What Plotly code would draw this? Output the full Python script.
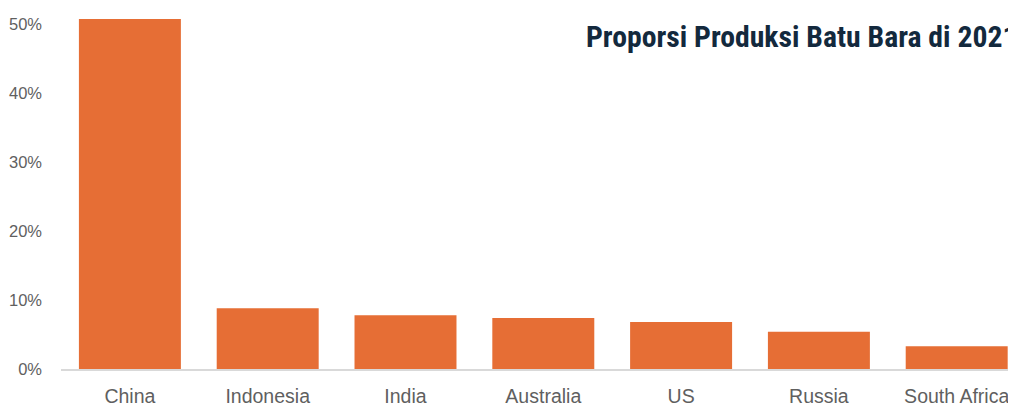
import plotly.graph_objects as go

countries = ["China", "Indonesia", "India", "Australia", "US", "Russia", "South Africa"]
shares = [50.7, 8.8, 7.8, 7.4, 6.8, 5.4, 3.3]
y_ticks = [0, 10, 20, 30, 40, 50]
y_tick_labels = ["0%", "10%", "20%", "30%", "40%", "50%"]
title_text = "Proporsi Produksi Batu Bara di 2021"

# the page body has an 8px margin, so figure coordinates = window coordinates - 8
W, H = 1008, 395
L, T, B = 53, 9, 34
plot_w = W - L
plot_h = H - T - B

fig = go.Figure(go.Bar(
    x=countries, y=shares,
    marker=dict(color="#E66E35", line=dict(width=0)),
    hoverinfo="skip",
))

fig.update_layout(
    width=W, height=H,
    margin=dict(l=L, r=0, t=T, b=B, pad=0),
    paper_bgcolor="white", plot_bgcolor="white",
    bargap=0.26,
    showlegend=False,
    font=dict(family="Liberation Sans, Arial", color="#666666", size=16),
    xaxis=dict(
        range=[-0.5, -0.5 + plot_w / 137.8], showgrid=False, zeroline=False,
        showline=True, linecolor="#d9d9d9", linewidth=2,
        ticks="", ticklabelstandoff=9, automargin=False,
        tickfont=dict(size=19.5, color="#5f5f5f"), fixedrange=True,
    ),
    yaxis=dict(
        range=[0, 51], tickvals=y_ticks, ticktext=y_tick_labels,
        showgrid=False, zeroline=False, showline=False, ticks="",
        ticklabelstandoff=18, automargin=False,
        tickfont=dict(size=16.5, color="#5f5f5f"),
        fixedrange=True,
    ),
    annotations=[dict(
        text="<b>" + title_text + "</b>", xref="paper", yref="paper",
        x=(584 - 8 - L) / plot_w, y=(H - B - (37 - 8)) / plot_h,
        xanchor="left", yanchor="middle",
        showarrow=False, font=dict(family="Roboto Condensed, Roboto", size=29.7, color="#13293D"),
    )],
)

fig.write_html("out.html")
